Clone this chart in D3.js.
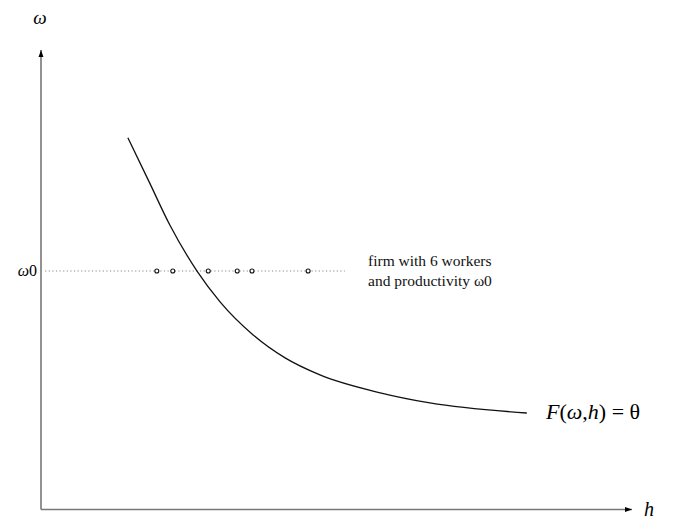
<!DOCTYPE html>
<html>
<head>
<meta charset="utf-8">
<script src="https://cdn.jsdelivr.net/npm/d3@7"></script>
<style>
  html, body { margin: 0; padding: 0; background: #fff; }
  svg { display: block; }
  svg text { font-family: "Liberation Serif", "Times New Roman", "DejaVu Serif", serif; }
</style>
</head>
<body>
<svg id="chart" width="684" height="520"></svg>
<script>
// Iso-productivity curve F(ω,h) = θ in the (h, ω) plane
const curveH = [1.47, 1.83, 2.18, 2.64, 3.03, 3.59, 4.13, 4.72, 5.74, 6.58, 8.22];
const curveW = [8.09, 7.13, 6.19, 5.19, 4.52, 3.80, 3.30, 2.93, 2.54, 2.32, 2.10];

// Firm with productivity ω0 and its six workers (skill h)
const omega0 = 5.19;
const workerH = [1.96, 2.23, 2.83, 3.32, 3.57, 4.52];
const dottedFromH = 0.07, dottedToH = 5.14;

const hMax = 10, wMax = 10;
const serif = "'Liberation Serif', 'Times New Roman', 'DejaVu Serif', serif";

const svg = d3.select("#chart");
const x = d3.scaleLinear().domain([0, hMax]).range([41, 632]);
const y = d3.scaleLinear().domain([0, wMax]).range([509.5, 50]);

// arrow marker
const defs = svg.append("defs");
defs.append("marker")
  .attr("id", "arrow")
  .attr("viewBox", "0 0 10 10")
  .attr("refX", 10).attr("refY", 5)
  .attr("markerWidth", 7).attr("markerHeight", 7)
  .attr("markerUnits", "userSpaceOnUse")
  .attr("orient", "auto")
  .append("path")
  .attr("d", "M0,1.5 L10,5 L0,8.5 Z")
  .attr("fill", "#000");

// axes
svg.append("line")
  .attr("x1", x(0)).attr("y1", y(0))
  .attr("x2", x(0)).attr("y2", y(wMax))
  .attr("stroke", "#777").attr("stroke-width", 1.6)
  .attr("marker-end", "url(#arrow)");
svg.append("line")
  .attr("x1", x(0)).attr("y1", y(0))
  .attr("x2", x(hMax)).attr("y2", y(0))
  .attr("stroke", "#777").attr("stroke-width", 1.6)
  .attr("marker-end", "url(#arrow)");

// axis labels
svg.append("text")
  .attr("x", x(0) - 1).attr("y", 24)
  .attr("text-anchor", "middle")
  .attr("font-family", serif)
  .attr("font-size", 19).attr("font-style", "italic")
  .text("ω");
svg.append("text")
  .attr("x", 649).attr("y", 516)
  .attr("text-anchor", "middle")
  .attr("font-family", serif)
  .attr("font-size", 20).attr("font-style", "italic")
  .text("h");

// ω0 level
svg.append("line")
  .attr("x1", x(dottedFromH)).attr("y1", y(omega0))
  .attr("x2", x(dottedToH)).attr("y2", y(omega0))
  .attr("stroke", "#888").attr("stroke-width", 1.2)
  .attr("stroke-dasharray", "1.2,2.4");
svg.append("text")
  .attr("x", 37).attr("y", y(omega0) + 5)
  .attr("text-anchor", "end")
  .attr("font-family", serif)
  .attr("font-size", 16)
  .html('<tspan font-style="italic">ω</tspan>0');

// curve
const pts = curveH.map((h, i) => [h, curveW[i]]);
svg.append("path")
  .datum(pts)
  .attr("fill", "none")
  .attr("stroke", "#111")
  .attr("stroke-width", 1.3)
  .attr("d", d3.line().x(d => x(d[0])).y(d => y(d[1])).curve(d3.curveMonotoneX));

// workers
svg.selectAll("circle.worker")
  .data(workerH)
  .join("circle")
  .attr("class", "worker")
  .attr("cx", d => x(d)).attr("cy", y(omega0))
  .attr("r", 2)
  .attr("fill", "#fff").attr("stroke", "#111").attr("stroke-width", 1.1);

// annotation
const note = svg.append("text")
  .attr("font-family", serif)
  .attr("font-size", 15.5).attr("fill", "#111");
note.append("tspan").attr("x", 368).attr("y", 266).text("firm with 6 workers");
note.append("tspan").attr("x", 368).attr("y", 286).text("and productivity ω0");

// curve label
svg.append("text")
  .attr("x", 546).attr("y", 419)
  .attr("font-family", serif)
  .attr("font-size", 22)
  .html('<tspan font-style="italic">F</tspan>(<tspan font-style="italic">ω</tspan>,<tspan font-style="italic">h</tspan>) = θ');
</script>
</body>
</html>
